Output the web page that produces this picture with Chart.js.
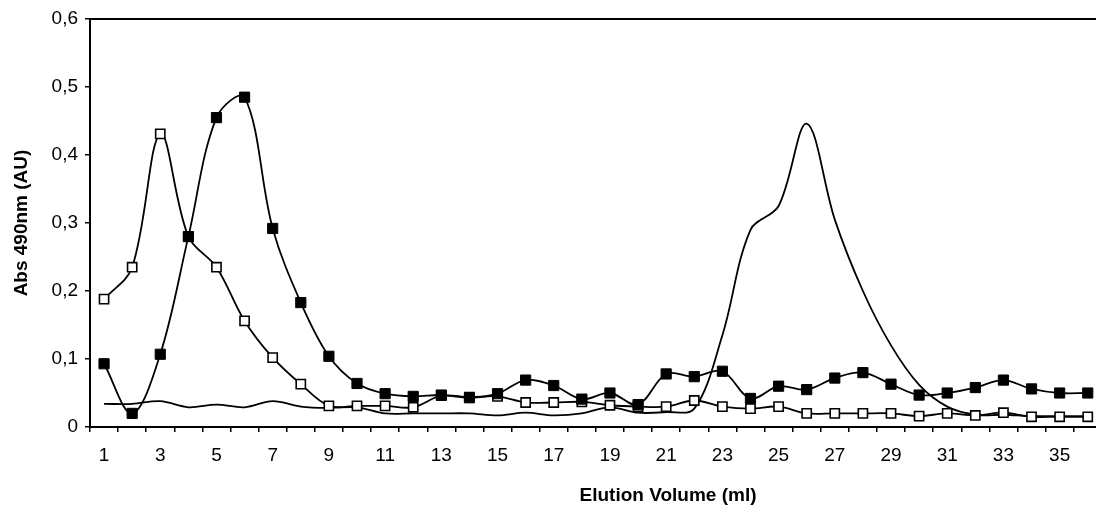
<!DOCTYPE html>
<html>
<head>
<meta charset="utf-8">
<title>Elution profile</title>
<script src="https://cdn.jsdelivr.net/npm/chart.js@4.4.1/dist/chart.umd.min.js"></script>
<style>
  html, body { margin: 0; padding: 0; background: #fff; overflow: hidden; }
  #grafico { display: block; }
</style>
</head>
<body>
<canvas id="grafico" width="1110" height="505"></canvas>
<script>
// Volumen de elución (ml), una fracción por categoría
const volumes = [1, 2, 3, 4, 5, 6, 7, 8, 9, 10, 11, 12, 13, 14, 15, 16, 17, 18,
                 19, 20, 21, 22, 23, 24, 25, 26, 27, 28, 29, 30, 31, 32, 33, 34, 35, 36];

// Absorbancia a 490 nm de cada serie
const absFilled = [0.093, 0.020, 0.107, 0.280, 0.455, 0.485, 0.292, 0.183, 0.104, 0.064,
                   0.049, 0.045, 0.047, 0.043, 0.049, 0.069, 0.061, 0.041, 0.050, 0.033,
                   0.078, 0.074, 0.082, 0.042, 0.060, 0.055, 0.072, 0.080, 0.063, 0.047,
                   0.050, 0.058, 0.069, 0.056, 0.050, 0.050];
const absOpen = [0.188, 0.235, 0.431, 0.280, 0.235, 0.156, 0.102, 0.063, 0.031, 0.031,
                 0.031, 0.029, 0.046, 0.044, 0.045, 0.036, 0.036, 0.037, 0.032, 0.030,
                 0.030, 0.039, 0.030, 0.027, 0.030, 0.020, 0.020, 0.020, 0.020, 0.016,
                 0.020, 0.017, 0.021, 0.015, 0.015, 0.015];
const absLine = [0.034, 0.034, 0.038, 0.029, 0.033, 0.029, 0.038, 0.030, 0.028, 0.029,
                 0.020, 0.020, 0.020, 0.020, 0.017, 0.021, 0.017, 0.020, 0.029, 0.021,
                 0.022, 0.027, 0.135, 0.290, 0.325, 0.446, 0.305, 0.200, 0.120, 0.062,
                 0.030, 0.018, 0.018, 0.016, 0.016, 0.016];

// Etiquetas del eje Y con coma decimal
const yTickLabels = ['0', '0,1', '0,2', '0,3', '0,4', '0,5', '0,6'];

const fuente = 'Arial, "Liberation Sans", sans-serif';

// Línea superior del marco y título del eje X
const marco = {
    id: 'marco',
    afterDraw(chart) {
        const { ctx, chartArea } = chart;
        ctx.save();
        ctx.strokeStyle = '#000';
        ctx.lineWidth = 2;
        ctx.beginPath();
        ctx.moveTo(chartArea.left, chartArea.top);
        ctx.lineTo(chartArea.right, chartArea.top);
        ctx.stroke();
        ctx.fillStyle = '#000';
        ctx.font = 'bold 19px ' + fuente;
        ctx.textAlign = 'center';
        ctx.textBaseline = 'alphabetic';
        ctx.fillText('Elution Volume (ml)', 668, 501);
        ctx.restore();
    }
};

const config = {
    type: 'line',
    data: {
        labels: volumes,
        datasets: [
            {
                label: 'Serie 1',
                data: absFilled,
                borderColor: '#000',
                pointStyle: 'rect',
                pointRadius: 7.2,
                pointBackgroundColor: '#000',
                pointBorderColor: '#000',
                pointBorderWidth: 1
            },
            {
                label: 'Serie 2',
                data: absOpen,
                borderColor: '#000',
                pointStyle: 'rect',
                pointRadius: 6.5,
                pointBackgroundColor: '#fff',
                pointBorderColor: '#000',
                pointBorderWidth: 1.6
            },
            {
                label: 'Serie 3',
                data: absLine,
                borderColor: '#000',
                pointRadius: 0
            }
        ]
    },
    options: {
        responsive: false,
        animation: false,
        devicePixelRatio: 1,
        layout: { padding: { top: 19, right: 3, left: 0, bottom: 0 } },
        elements: {
            line: { borderWidth: 1.8, tension: 0.35, fill: false }
        },
        plugins: {
            legend: { display: false },
            tooltip: { enabled: false }
        },
        scales: {
            x: {
                type: 'category',
                offset: true,
                grid: { offset: true, drawOnChartArea: false, tickLength: 5, color: '#000', lineWidth: 1.5 },
                border: { color: '#000', width: 2 },
                ticks: {
                    autoSkip: false,
                    maxRotation: 0,
                    padding: 12,
                    color: '#000',
                    font: { family: fuente, size: 19 },
                    // solo los volúmenes impares llevan número
                    callback: (value, index) => index % 2 === 0 ? String(volumes[index]) : ''
                },
                afterFit: (scale) => { scale.height = 78; }
            },
            y: {
                min: 0,
                max: 0.6,
                grid: { drawOnChartArea: false, tickLength: 5, color: '#000', lineWidth: 1.5 },
                border: { color: '#000', width: 2 },
                ticks: {
                    stepSize: 0.1,
                    padding: 7,
                    color: '#000',
                    font: { family: fuente, size: 19 },
                    callback: (value) => yTickLabels[Math.round(value * 10)]
                },
                title: {
                    display: true,
                    text: 'Abs 490nm (AU)',
                    color: '#000',
                    font: { family: fuente, size: 19, weight: 'bold' },
                    padding: { top: 10, bottom: 0 }
                },
                afterFit: (scale) => { scale.width = 90; }
            }
        }
    },
    plugins: [marco]
};

new Chart(document.getElementById('grafico'), config);
</script>
</body>
</html>
